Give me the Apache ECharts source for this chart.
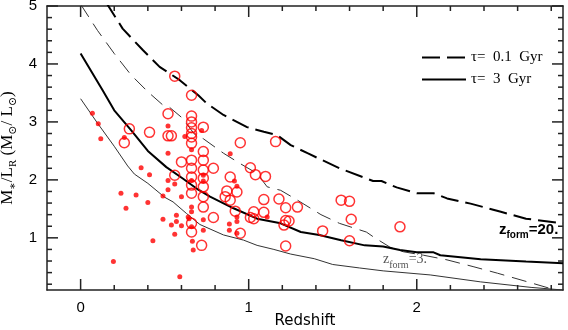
<!DOCTYPE html>
<html>
<head>
<meta charset="utf-8">
<script src="https://cdn.jsdelivr.net/npm/echarts@6/dist/echarts.min.js"></script>
<style>html,body{margin:0;padding:0;background:#fff}#main{width:568px;height:330px}</style>
</head>
<body>
<div id="main"></div>
<script>
// model tracks: [redshift, M/L]
var tau01Zf20 = [[0.15,5.07],[0.25,4.61],[0.37,4.24],[0.47,3.95],[0.59,3.72],[0.70,3.46],[0.75,3.32],[0.85,3.12],[0.99,2.91],[1.09,2.83],[1.17,2.77],[1.25,2.60],[1.35,2.46],[1.54,2.20],[1.74,1.98],[1.79,1.98],[1.88,1.87],[2.00,1.77],[2.10,1.77],[2.18,1.68],[2.32,1.59],[2.50,1.45],[2.65,1.33],[2.87,1.25]];
var tau01Zf3 = [[0.0,5.03],[0.10,4.58],[0.20,4.18],[0.30,3.81],[0.40,3.52],[0.49,3.29],[0.53,3.25],[0.60,3.08],[0.68,2.78],[0.73,2.71],[0.85,2.46],[0.95,2.28],[1.05,2.11],[1.11,1.88],[1.19,1.82],[1.29,1.65],[1.43,1.40],[1.54,1.25],[1.70,1.10],[1.74,1.02],[1.84,0.84],[1.92,0.76],[2.04,0.70],[2.18,0.62],[2.34,0.50],[2.48,0.39],[2.66,0.24],[2.79,0.13],[2.83,0.10]];
var tau3Zf20 = [[0,4.18],[0.13,3.55],[0.20,3.20],[0.30,2.86],[0.40,2.50],[0.51,2.22],[0.61,2.02],[0.70,1.83],[0.77,1.71],[0.91,1.51],[1.05,1.33],[1.19,1.25],[1.31,1.10],[1.42,1.05],[1.55,0.96],[1.69,0.87],[1.80,0.85],[1.90,0.79],[2.00,0.75],[2.10,0.75],[2.14,0.70],[2.38,0.63],[2.65,0.59],[2.87,0.56]];
var tau3Zf3 = [[0,3.40],[0.10,2.98],[0.20,2.58],[0.28,2.24],[0.32,2.10],[0.40,1.94],[0.50,1.70],[0.55,1.62],[0.63,1.42],[0.71,1.23],[0.85,1.05],[0.97,0.96],[1.05,0.87],[1.15,0.80],[1.25,0.72],[1.39,0.64],[1.50,0.54],[1.66,0.48],[1.80,0.43],[2.08,0.36],[2.38,0.24],[2.68,0.145],[2.87,0.10]];

// galaxies
var openPts = [[0.26,2.64],[0.29,2.88],[0.41,2.82],[0.52,3.14],[0.52,2.76],[0.54,2.76],[0.56,3.79],[0.60,2.31],[0.56,2.08],
  [0.66,3.46],[0.66,3.10],[0.66,3.00],[0.66,2.90],[0.66,2.80],[0.66,2.74],[0.66,2.63],[0.66,2.34],[0.66,2.20],[0.66,2.05],[0.66,1.91],[0.66,1.77],[0.66,1.25],[0.66,1.10],
  [0.73,2.91],[0.73,2.49],[0.73,2.34],[0.73,2.17],[0.73,2.03],[0.73,1.88],[0.73,1.71],[0.73,1.53],[0.72,0.87],
  [0.79,2.20],[0.79,1.35],
  [0.95,2.64],[1.01,2.21],[1.04,2.09],[1.10,2.06],[0.89,2.05],[0.87,1.81],[0.93,1.79],[0.86,1.71],[0.89,1.65],[0.92,1.46],[1.03,1.45],[1.01,1.35],[1.03,1.33],[0.95,1.08],
  [1.16,2.66],[1.09,1.66],[1.18,1.67],[1.22,1.52],[1.29,1.53],[1.09,1.44],[1.22,1.30],[1.24,1.29],[1.21,1.22],[1.44,1.12],[1.22,0.86],[1.55,1.65],[1.60,1.63],[1.61,1.32],[1.60,0.95],[1.90,1.19]];
var filledPts = [[0.07,3.15],[0.105,2.97],[0.12,2.71],[0.26,2.73],[0.52,2.93],[0.62,2.75],[0.52,2.46],[0.36,2.21],[0.41,2.09],[0.52,1.99],[0.52,1.83],[0.56,1.93],[0.24,1.77],[0.33,1.74],[0.49,1.72],[0.60,1.71],[0.27,1.51],[0.40,1.61],[0.49,1.32],[0.57,1.39],[0.54,1.22],[0.57,1.28],[0.60,1.21],[0.56,1.06],[0.43,0.95],[0.195,0.59],[0.59,0.33],[0.645,1.33],[0.66,1.19],[0.665,0.94],[0.67,0.79],
  [0.72,2.85],[0.66,2.52],[0.66,1.99],[0.73,2.08],[0.73,1.98],[0.66,1.53],[0.66,1.45],[0.64,1.36],[0.73,1.31],[0.73,1.13],
  [0.89,2.45],[0.915,1.98],[0.93,1.89],[0.885,1.24],[0.885,1.13],[0.93,1.36],[0.93,1.28],[0.93,1.08],[1.11,1.36]];

// ticks and tick labels
var xMajor = [0, 1, 2];
var xMinor = [0.2, 0.4, 0.6, 0.8, 1.2, 1.4, 1.6, 1.8, 2.2, 2.4, 2.6, 2.8];
var yMajor = [1, 2, 3, 4, 5];
var yMinor = [0.2, 0.4, 0.6, 0.8, 1.2, 1.4, 1.6, 1.8, 2.2, 2.4, 2.6, 2.8, 3.2, 3.4, 3.6, 3.8, 4.2, 4.4, 4.6, 4.8];

var X0 = -0.2, X1 = 2.87, Y0 = 0.1, Y1 = 5;
var axisCol = '#222';
var MAJ = 11, MIN = 5;

function mkAxis(min, max, pos, labels) {
  return {
    type: 'value', min: min, max: max, position: pos,
    minInterval: 1, maxInterval: 1,
    axisLine: {show: true, onZero: false, lineStyle: {color: axisCol, width: 1.5}},
    axisTick: {show: false},
    minorTick: {show: false},
    axisLabel: labels ? {
      show: true, margin: 10, color: '#000', fontSize: 15, fontFamily: 'Liberation Sans',
      formatter: function (v) { return labels.indexOf(Math.round(v * 1000) / 1000) >= 0 ? String(v) : ''; }
    } : {show: false},
    splitLine: {show: false}
  };
}

var xAxes = [mkAxis(X0, X1, 'bottom', xMajor), mkAxis(X0, X1, 'top')];
xAxes[0].name = 'Redshift';
xAxes[0].nameLocation = 'middle';
xAxes[0].nameGap = 24;
xAxes[0].nameMoveOverlap = false;
xAxes[0].nameTextStyle = {color: '#000', fontSize: 15, fontFamily: 'DejaVu Sans'};

var yAxes = [mkAxis(Y0, Y1, 'left', yMajor), mkAxis(Y0, Y1, 'right')];
yAxes[0].name = '{m|M}{s|∗}{m|/L}{s|R}{m| (M}{s|⊙}{m|/ L}{s|⊙}{m|)}';
yAxes[0].nameLocation = 'middle';
yAxes[0].nameRotate = 90;
yAxes[0].nameGap = 28;
yAxes[0].nameMoveOverlap = false;
yAxes[0].nameTextStyle = {
  rich: {
    m: {fontSize: 17, fontFamily: 'Liberation Serif, DejaVu Serif', color: '#000', lineHeight: 22},
    s: {fontSize: 11, fontFamily: 'Liberation Serif, DejaVu Serif', color: '#000', lineHeight: 10, verticalAlign: 'bottom'}
  }
};

// tick marks on all four sides, placed through the axes
var xTickData = xMinor.map(function (v) { return [v, Y0, MIN]; })
  .concat(xMajor.map(function (v) { return [v, Y0, MAJ]; }));
var yTickData = yMinor.map(function (v) { return [X0, v, MIN]; })
  .concat(yMajor.map(function (v) { return [X0, v, MAJ]; }));

function tickLine(x1, y1, x2, y2) {
  return {type: 'line', shape: {x1: x1, y1: y1, x2: x2, y2: y2}, style: {stroke: axisCol, lineWidth: 1.5}};
}

var chart = echarts.init(document.getElementById('main'));
chart.setOption({
  animation: false,
  backgroundColor: '#fff',
  grid: {left: 47, top: 6, right: 5, bottom: 40, outerBoundsMode: 'none', containLabel: false},
  xAxis: xAxes,
  yAxis: yAxes,
  legend: {
    data: ['τ=  0.1  Gyr', 'τ=  3  Gyr'],
    orient: 'vertical', left: 416, top: 45,
    itemWidth: 44, itemHeight: 14, itemGap: 7,
    itemStyle: {opacity: 0},
    textStyle: {color: '#000', fontSize: 15, fontFamily: 'Liberation Serif, DejaVu Serif'}
  },
  graphic: [
    {type: 'text', left: 499, top: 222, style: {
      text: '{a|z}{b|form}{a|=20.}',
      rich: {
        a: {fontSize: 15, fontWeight: 'bold', fontFamily: 'Liberation Sans', fill: '#000', lineHeight: 22},
        b: {fontSize: 10, fontWeight: 'bold', fontFamily: 'Liberation Sans', fill: '#000', lineHeight: 10, verticalAlign: 'bottom'}
      }
    }},
    {type: 'text', left: 383, top: 252, style: {
      text: '{a|z}{b|form}{a|=3.}',
      rich: {
        a: {fontSize: 14, fontFamily: 'Liberation Serif', fill: '#555', lineHeight: 22},
        b: {fontSize: 10, fontFamily: 'Liberation Serif', fill: '#555', lineHeight: 10, verticalAlign: 'bottom'}
      }
    }}
  ],
  series: [
    {name: 'filled', type: 'scatter', data: filledPts, symbol: 'circle', symbolSize: 5,
      itemStyle: {color: '#ff0000'}, z: 3},
    {name: 'open', type: 'scatter', data: openPts, symbol: 'circle', symbolSize: 10,
      itemStyle: {color: 'rgba(0,0,0,0)', borderColor: '#ff0000', borderWidth: 1.5}, z: 3},
    {name: 'τ=  0.1  Gyr', type: 'line', data: tau01Zf20, symbol: 'none', clip: true,
      itemStyle: {color: '#000'}, lineStyle: {color: '#000', width: 2, type: [18, 7]}, z: 2},
    {name: 'zf3 0.1', type: 'line', data: tau01Zf3, symbol: 'none', clip: true,
      lineStyle: {color: '#333', width: 1, type: [15, 8]}, z: 2},
    {name: 'τ=  3  Gyr', type: 'line', data: tau3Zf20, symbol: 'none', clip: true,
      itemStyle: {color: '#000'}, lineStyle: {color: '#000', width: 2, type: 'solid'}, z: 2},
    {name: 'zf3 3', type: 'line', data: tau3Zf3, symbol: 'none', clip: true,
      lineStyle: {color: '#333', width: 1, type: 'solid'}, z: 2},
    {name: 'xticks', type: 'custom', data: xTickData, silent: true, z: 5,
      renderItem: function (params, api) {
        var x = api.value(0), len = api.value(2);
        var b = api.coord([x, Y0]), t = api.coord([x, Y1]);
        return {type: 'group', children: [tickLine(b[0], b[1], b[0], b[1] - len), tickLine(t[0], t[1], t[0], t[1] + len)]};
      }},
    {name: 'yticks', type: 'custom', data: yTickData, silent: true, z: 5,
      renderItem: function (params, api) {
        var y = api.value(1), len = api.value(2);
        var l = api.coord([X0, y]), r = api.coord([X1, y]);
        return {type: 'group', children: [tickLine(l[0], l[1], l[0] + len, l[1]), tickLine(r[0], r[1], r[0] - len, r[1])]};
      }}
  ]
});
</script>
</body>
</html>
